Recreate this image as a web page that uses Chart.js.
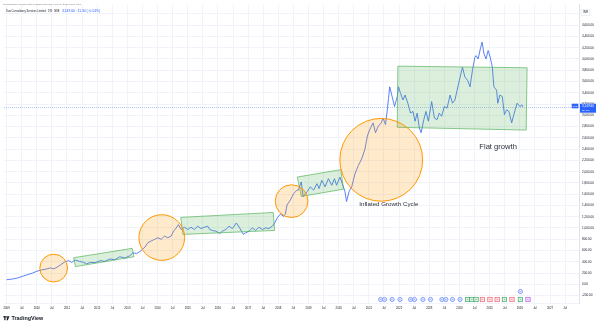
<!DOCTYPE html>
<html><head><meta charset="utf-8">
<script src="https://cdn.jsdelivr.net/npm/chart.js@4.4.1/dist/chart.umd.min.js"></script>
<style>html,body{margin:0;padding:0;background:#fff;}canvas{display:block}</style>
</head><body>
<canvas id="c" width="600" height="327"></canvas>
<script>
// ---- data (decimal years / INR close) ----
const dates = [2009.00,2009.19,2009.35,2009.52,2009.68,2009.85,2010.01,2010.17,2010.34,2010.45,2010.56,2010.67,2010.83,2010.94,2011.05,2011.16,2011.27,2011.41,2011.55,2011.65,2011.77,2011.93,2012.10,2012.26,2012.42,2012.59,2012.75,2012.92,2013.08,2013.19,2013.30,2013.41,2013.50,2013.58,2013.68,2013.79,2013.90,2014.01,2014.12,2014.23,2014.34,2014.45,2014.53,2014.62,2014.69,2014.78,2014.89,2015.00,2015.11,2015.22,2015.33,2015.44,2015.55,2015.66,2015.73,2015.82,2015.93,2016.06,2016.15,2016.26,2016.37,2016.48,2016.61,2016.72,2016.84,2016.92,2017.03,2017.14,2017.25,2017.36,2017.47,2017.58,2017.69,2017.80,2017.88,2017.96,2018.07,2018.18,2018.23,2018.29,2018.40,2018.51,2018.62,2018.66,2018.76,2018.82,2018.95,2019.06,2019.17,2019.28,2019.35,2019.44,2019.55,2019.66,2019.77,2019.86,2019.93,2020.04,2020.12,2020.21,2020.26,2020.34,2020.43,2020.54,2020.65,2020.76,2020.87,2020.95,2021.03,2021.14,2021.22,2021.31,2021.41,2021.47,2021.55,2021.61,2021.65,2021.69,2021.77,2021.85,2021.94,2021.98,2022.05,2022.13,2022.20,2022.29,2022.38,2022.46,2022.53,2022.60,2022.67,2022.73,2022.82,2022.89,2022.97,2023.08,2023.17,2023.26,2023.33,2023.41,2023.50,2023.59,2023.69,2023.77,2023.85,2023.96,2024.05,2024.10,2024.18,2024.27,2024.35,2024.43,2024.51,2024.55,2024.62,2024.70,2024.75,2024.81,2024.88,2024.95,2025.01,2025.09,2025.14,2025.23,2025.27,2025.34,2025.42,2025.49,2025.56,2025.64,2025.73,2025.80,2025.91,2026.00,2026.07,2026.10];
const closes = [82,93,110,140,169,198,233,256,274,291,274,303,361,402,419,390,431,407,390,361,390,384,419,407,449,437,489,466,507,560,545,580,620,660,739,769,798,827,798,856,827,856,943,1001,1060,973,1013,973,1013,973,1031,990,1013,1031,973,955,943,903,943,973,1031,990,1089,1001,886,914,943,1001,955,1013,973,1001,990,1031,1089,1176,1246,1205,1246,1410,1497,1613,1672,1672,1817,1555,1642,1730,1672,1787,1700,1846,1730,1875,1759,1875,1759,1904,1787,1642,1468,1642,1730,1962,2109,2224,2399,2633,2748,2865,2690,2807,2865,2952,2835,3097,3300,3506,3332,3157,3332,3506,3389,3272,3360,3215,3040,3069,2895,3040,2778,2690,2924,3069,2895,3244,2952,2924,3040,2982,3157,3127,3360,3215,3272,3534,3739,3855,3681,3622,3506,3797,4030,4060,4000,4200,4300,4100,4000,4150,4050,3855,3506,3447,3215,3360,3332,3011,3097,3069,2865,3011,3215,3157,3185,3149.6];
const lastClose = 3149.60;
const changeText = "3,149.60 \u221211.30 (\u22120.54%)";
const yearTickLabel = v => String(Math.round(v));
const halfYearLabel = "Jul";

// drawings (data coordinates)
const circleCenters = [[2010.56,288],[2014.14,830],[2018.44,1476],[2021.41,2210]];
const circleRadiiYears = [0.46,0.757,0.543,1.372];
const rects = [
  [[2011.22,472],[2013.16,638],[2013.22,489],[2011.28,314]],
  [[2014.77,1188],[2017.83,1275],[2017.88,956],[2014.84,886]],
  [[2018.63,1904],[2020.07,2035],[2020.16,1689],[2018.76,1560]],
  [[2021.96,3873],[2026.24,3844],[2026.21,2738],[2021.94,2787]]
];
const notes = [["Flat growth",2025.28,2446,7.6],["Inflated Growth Cycle",2021.66,1415,6.2]];

// event markers
const dividendDates = [2021.39,2021.52,2021.77,2022.03,2022.38,2022.51,2022.79,2023.04,2023.42,2023.55,2023.77,2024.02];
const beatDates = [2024.27,2024.41,2024.55,2025.49,2026.02];
const missDates = [2024.76,2025.01,2025.25,2025.74];
const upcomingDates = [2026.27];
const upperDividendDates = [2026.02];

const X_MIN = 2008.915, X_MAX = 2027.96, Y_MIN = -332, Y_MAX = 4961;
const FONT = "'Liberation Sans', Arial, sans-serif";

const drawPlugin = {
  id: 'tvdraw',
  afterDatasetsDraw(chart) {
    const {ctx, chartArea: ca, scales: {x, y}} = chart;
    ctx.save();
    ctx.beginPath(); ctx.rect(ca.left, ca.top, ca.right - ca.left, ca.bottom - ca.top); ctx.clip();
    // price line
    ctx.strokeStyle = 'rgba(41,98,255,0.35)'; ctx.lineWidth = 1; ctx.setLineDash([1,1]);
    const py = Math.round(y.getPixelForValue(lastClose)) + 0.5;
    ctx.beginPath(); ctx.moveTo(ca.left, py); ctx.lineTo(ca.right, py); ctx.stroke();
    ctx.setLineDash([]);
    // rects
    rects.forEach(r => {
      ctx.beginPath();
      r.forEach((p, i) => { const px = x.getPixelForValue(p[0]), pyy = y.getPixelForValue(p[1]); i ? ctx.lineTo(px, pyy) : ctx.moveTo(px, pyy); });
      ctx.closePath();
      ctx.fillStyle = 'rgba(76,175,80,0.2)'; ctx.fill();
      ctx.strokeStyle = 'rgba(76,175,80,0.65)'; ctx.lineWidth = 1; ctx.stroke();
    });
    // circles
    circleCenters.forEach((c, i) => {
      const cx = x.getPixelForValue(c[0]), cy = y.getPixelForValue(c[1]);
      const r = Math.abs(x.getPixelForValue(c[0] + circleRadiiYears[i]) - cx);
      ctx.beginPath(); ctx.arc(cx, cy, r, 0, Math.PI * 2);
      ctx.fillStyle = 'rgba(255,152,0,0.2)'; ctx.fill();
      ctx.strokeStyle = '#ff9800'; ctx.lineWidth = 1; ctx.stroke();
    });
    // notes
    ctx.fillStyle = '#2a2e39'; ctx.textAlign = 'center'; ctx.textBaseline = 'middle';
    notes.forEach(n => { ctx.font = n[3] + 'px ' + FONT; ctx.fillText(n[0], x.getPixelForValue(n[1]), y.getPixelForValue(n[2])); });
    // event markers
    const my = ca.bottom - 3.5;
    const circ = (d, yy, stroke, fill, letter) => {
      const cx = x.getPixelForValue(d);
      ctx.beginPath(); ctx.arc(cx, yy, 2.1, 0, Math.PI * 2);
      ctx.fillStyle = fill; ctx.fill(); ctx.strokeStyle = stroke; ctx.lineWidth = 0.7; ctx.stroke();
      ctx.fillStyle = stroke; ctx.font = '2.4px ' + FONT; ctx.fillText(letter, cx, yy + 0.1);
    };
    const box = (d, yy, stroke, fill, letter) => {
      const cx = x.getPixelForValue(d);
      ctx.fillStyle = fill; ctx.fillRect(cx - 2.2, yy - 2.2, 4.4, 4.4);
      ctx.strokeStyle = stroke; ctx.lineWidth = 0.7; ctx.strokeRect(cx - 2.2, yy - 2.2, 4.4, 4.4);
      ctx.fillStyle = stroke; ctx.font = '2.4px ' + FONT; ctx.fillText(letter, cx, yy + 0.1);
    };
    dividendDates.forEach(d => circ(d, my, '#5b7cfa', '#e8edff', 'D'));
    upperDividendDates.forEach(d => circ(d, my - 8, '#5b7cfa', '#e8edff', 'D'));
    beatDates.forEach(d => box(d, my, '#3fa66b', '#dff3e6', 'E'));
    missDates.forEach(d => box(d, my, '#f06474', '#fde3e6', 'E'));
    upcomingDates.forEach(d => box(d, my, '#b45cf0', '#f1e2fd', 'E'));
    ctx.restore();
  },
  afterDraw(chart) {
    const {ctx, chartArea: ca, scales: {y}} = chart;
    ctx.save();
    ctx.textBaseline = 'middle'; ctx.textAlign = 'left';
    // header
    ctx.fillStyle = '#787b86'; ctx.font = '2.5px ' + FONT;
    ctx.fillText('dreamjam809 created with TradingView.com, Feb 06, 2026 13:54 UTC', 3, 4.5);
    ctx.fillStyle = '#131722'; ctx.font = '2.6px ' + FONT;
    ctx.fillText('Tata Consultancy Services Limited \u00b7 1W \u00b7 NSE', 6, 11.5);
    ctx.fillStyle = '#2962ff'; ctx.font = '3.3px ' + FONT;
    ctx.fillText(changeText, 62, 11.5);
    // INR box
    ctx.fillStyle = '#fff'; ctx.fillRect(581, 9.5, 9, 6);
    ctx.strokeStyle = '#e0e3eb'; ctx.lineWidth = 0.6; ctx.strokeRect(581, 9.5, 9, 6);
    ctx.fillStyle = '#131722'; ctx.font = '2.8px ' + FONT; ctx.textAlign = 'center';
    ctx.fillText('INR', 585.5, 12.6);
    // price label
    const py = y.getPixelForValue(lastClose);
    ctx.fillStyle = '#2962ff';
    ctx.fillRect(ca.right + 1, py - 3.2, 16, 9);
    ctx.fillRect(ca.right - 7.3, py - 3.2, 6.6, 4.6);
    ctx.fillStyle = '#fff';
    ctx.font = '3.1px ' + FONT; ctx.textAlign = 'left';
    ctx.fillText(lastClose.toLocaleString('en-US', {minimumFractionDigits: 2}), ca.right + 3, py - 1);
    ctx.font = '2.4px ' + FONT;
    ctx.fillText('2D 10H', ca.right + 3, py + 3.3);
    ctx.textAlign = 'center';
    ctx.fillText('TCS', ca.right - 4, py - 0.9);
    // TradingView logo
    ctx.fillStyle = '#131722';
    ctx.fillRect(3.3, 316.2, 2.4, 1.2); ctx.fillRect(4.3, 316.2, 1.2, 4);
    ctx.beginPath(); ctx.arc(6.7, 316.9, 0.7, 0, Math.PI * 2); ctx.fill();
    ctx.beginPath(); ctx.moveTo(7.4, 316.2); ctx.lineTo(9.4, 316.2); ctx.lineTo(7.8, 320.2); ctx.lineTo(6.6, 320.2); ctx.closePath(); ctx.fill();
    ctx.textAlign = 'left'; ctx.font = '600 5.4px ' + FONT;
    ctx.fillText('TradingView', 11.5, 318.4);
    ctx.restore();
  }
};

new Chart(document.getElementById('c'), {
  type: 'line',
  data: { datasets: [{ data: dates.map((d, i) => ({x: d, y: closes[i]})), borderColor: '#4a74f5', borderWidth: 0.9, pointRadius: 0, tension: 0, fill: false }] },
  options: {
    responsive: false, animation: false, devicePixelRatio: 1,
    layout: { padding: 0 },
    plugins: { legend: { display: false }, tooltip: { enabled: false } },
    scales: {
      x: {
        type: 'linear', min: X_MIN, max: X_MAX,
        grid: { color: '#f0f3fa', drawTicks: false, lineWidth: 1 },
        border: { display: true, color: '#f0f3fa' },
        ticks: { stepSize: 0.5, includeBounds: false, autoSkip: false, maxRotation: 0, padding: 3.5,
          font: { size: 2.8, family: FONT }, color: '#131722',
          callback: v => Math.abs(v - Math.round(v)) < 0.01 ? yearTickLabel(v) : halfYearLabel },
        afterFit: s => { s.height = 24; }
      },
      y: {
        position: 'right', min: Y_MIN, max: Y_MAX,
        grid: { color: '#f0f3fa', drawTicks: false },
        border: { display: true, color: '#e0e3eb' },
        ticks: { stepSize: 200, includeBounds: false, padding: 3, font: { size: 3.1, family: FONT }, color: '#131722',
          callback: v => v > 4700 ? '' : v.toLocaleString('en-US', {minimumFractionDigits: 2, maximumFractionDigits: 2}) },
        afterFit: s => { s.width = 21; }
      }
    }
  },
  plugins: [drawPlugin]
});
</script>
</body></html>
